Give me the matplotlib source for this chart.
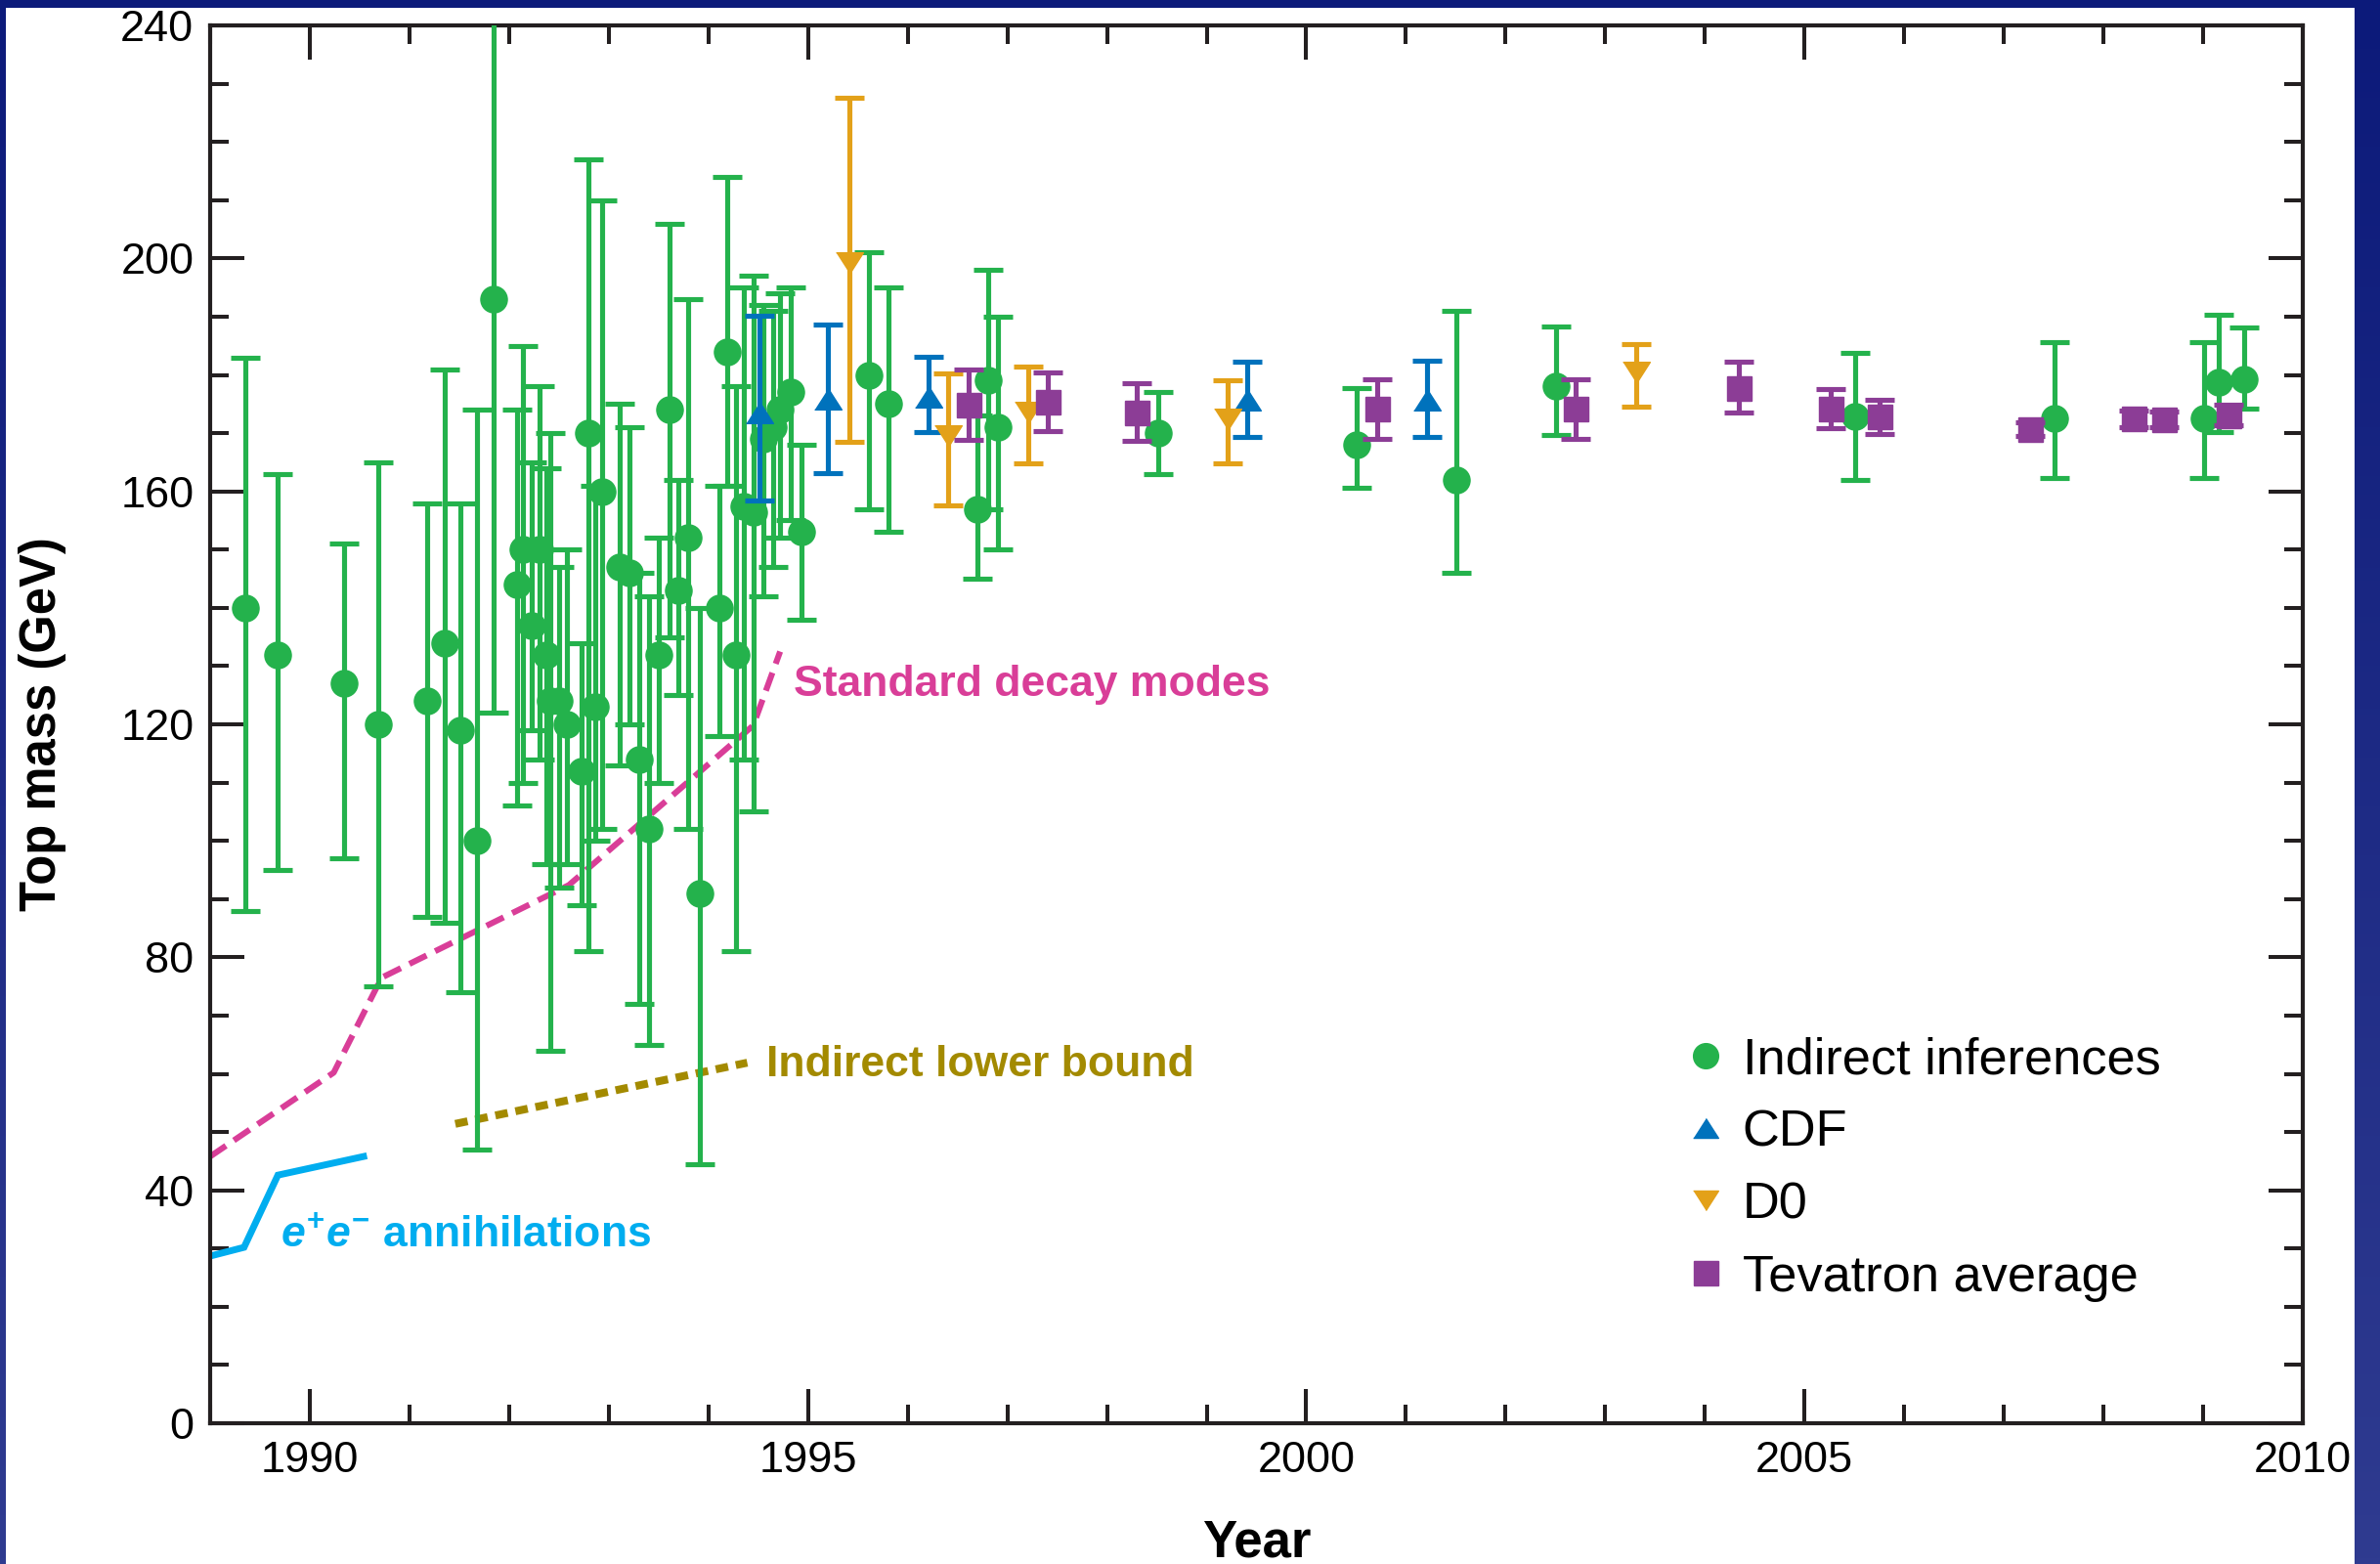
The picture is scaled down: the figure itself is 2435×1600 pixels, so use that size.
import numpy as np
import matplotlib
matplotlib.use("Agg")
import matplotlib.pyplot as plt
from matplotlib.lines import Line2D
from matplotlib.patches import Rectangle
from matplotlib.ticker import MultipleLocator

plt.rcParams['font.family'] = ['Liberation Sans', 'DejaVu Sans']
plt.rcParams['mathtext.fontset'] = 'custom'
plt.rcParams['mathtext.rm'] = 'Liberation Sans:bold'
plt.rcParams['mathtext.it'] = 'Liberation Sans:italic:bold'
plt.rcParams['mathtext.bf'] = 'Liberation Sans:bold'

# ---- data: year, central value, lower and upper limit of the band (GeV) ----
ind_year = [1989.35, 1989.68, 1990.34, 1990.69, 1991.18, 1991.35, 1991.51, 1991.68,
            1991.84, 1992.08, 1992.14, 1992.23, 1992.31, 1992.37, 1992.41, 1992.50,
            1992.58, 1992.73, 1992.80, 1992.86, 1992.93, 1993.11, 1993.21, 1993.31,
            1993.40, 1993.50, 1993.61, 1993.70, 1993.80, 1993.91, 1994.11, 1994.19,
            1994.28, 1994.36, 1994.45, 1994.55, 1994.65, 1994.72, 1994.83, 1994.93,
            1995.61, 1995.81, 1996.70, 1996.81, 1996.91, 1998.51, 2000.51, 2001.51,
            2002.51, 2005.51, 2007.51, 2009.01, 2009.16, 2009.41]
ind_mass = [140, 132, 127, 120, 124, 134, 119, 100,
            193, 144, 150, 137, 150, 132, 124, 124,
            120, 112, 170, 123, 160, 147, 146, 114,
            102, 132, 174, 143, 152, 91, 140, 184,
            132, 157.5, 156.5, 169, 171, 174, 177, 153,
            180, 175, 157, 179, 171, 170, 168, 162,
            178, 172.8, 172.5, 172.5, 178.8, 179.3]
ind_lo = [88, 95, 97, 75, 87, 86, 74, 47,
          122, 106, 110, 119, 114, 96, 64, 92,
          96, 89, 81, 100, 102, 113, 120, 72,
          65, 110, 135, 125, 102, 44.5, 118, 161,
          81, 114, 105, 142, 147, 152, 155, 138,
          157, 153, 145, 157, 150, 163, 160.6, 146,
          169.7, 162, 162.3, 162.3, 170.1, 174.2]
ind_hi = [183, 163, 151, 165, 158, 181, 158, 174,
          262, 174, 185, 165, 178, 164, 170, 147,
          150, 134, 217, 161, 210, 175, 171, 146,
          142, 152, 206, 162, 193, 140, 161, 214,
          178, 195, 197, 192, 191, 194, 195, 168,
          201, 195, 173, 198, 190, 177, 177.7, 191,
          188.3, 183.8, 185.6, 185.6, 190.3, 188.1]

cdf_year = [1994.51, 1995.20, 1996.21, 1999.41, 2001.21]
cdf_mass = [173.6, 175.9, 176.2, 175.7, 175.7]
cdf_lo = [158.4, 163.2, 170.2, 169.3, 169.3]
cdf_hi = [190.1, 188.6, 183.1, 182.3, 182.4]

d0_year = [1995.41, 1996.41, 1997.21, 1999.21, 2003.31]
d0_mass = [199.3, 169.5, 173.6, 172.4, 180.4]
d0_lo = [168.5, 157.6, 164.8, 164.8, 174.5]
d0_hi = [227.6, 180.2, 181.5, 179.1, 185.3]

tev_year = [1996.61, 1997.41, 1998.30, 2000.71, 2002.70, 2004.34, 2005.26, 2005.75,
            2007.26, 2008.30, 2008.61, 2009.25]
tev_mass = [174.8, 175.4, 173.6, 174.2, 174.2, 177.8, 174.2, 172.8,
            170.7, 172.5, 172.4, 173.1]
tev_lo = [168.8, 170.4, 168.7, 169.0, 169.0, 173.5, 170.8, 169.8,
          169.5, 171.1, 171.1, 171.4]
tev_hi = [180.9, 180.5, 178.6, 179.3, 179.3, 182.2, 177.6, 175.7,
          171.9, 173.9, 173.7, 174.8]

# limit curves
ee_year = [1989.0, 1989.34, 1989.68, 1990.54]
ee_mass = [28.7, 30.2, 42.6, 45.8]
sdm_year = [1989.0, 1990.24, 1990.72, 1992.60, 1994.45, 1994.72]
sdm_mass = [45.8, 60.2, 76.5, 92.4, 119.8, 132.5]
ilb_year = [1991.46, 1994.39]
ilb_mass = [51.4, 61.9]

series_labels = ["Indirect inferences", "CDF", "D0", "Tevatron average"]

# ---- colours ----
GREEN = '#24B24C'
BLUE = '#0072BC'
ORANGE = '#E3A119'
PURPLE = '#8C3D96'
PINK = '#D93E98'
CYAN = '#00ADEF'
OLIVE = '#A38A00'
INK = '#231F20'

W, H = 2435, 1600
fig = plt.figure(figsize=(W / 100, H / 100), dpi=100)

# navy frame with a soft vertical gradient, white panel inside
bg = fig.add_axes([0, 0, 1, 1], zorder=-10)
top_c = np.array([12, 26, 122]) / 255.0
bot_c = np.array([47, 59, 144]) / 255.0
t = np.linspace(0, 1, 256)[:, None]
grad = (top_c[None, :] * (1 - t) + bot_c[None, :] * t)[:, None, :]
bg.imshow(grad, aspect='auto', extent=[0, 1, 0, 1], origin='upper')
bg.add_patch(Rectangle((6 / W, 0), (2409 - 6) / W, (H - 8) / H,
                       facecolor='white', edgecolor='none'))
bg.set_xlim(0, 1)
bg.set_ylim(0, 1)
bg.set_axis_off()

x0, x1 = 215, 2356
y0, y1 = 26, 1456
ax = fig.add_axes([x0 / W, 1 - y1 / H, (x1 - x0) / W, (y1 - y0) / H])
ax.set_facecolor('white')

ax.set_xlim(1989, 2010)
ax.set_ylim(0, 240)


def band(mass, lo, hi):
    m = np.asarray(mass, float)
    return np.vstack([m - np.asarray(lo, float), np.asarray(hi, float) - m])


eb_kw = dict(ls='none', capsize=11, elinewidth=3.7, capthick=3.7)

tri_up = [(-1, -0.78), (1, -0.78), (0, 0.78)]
tri_dn = [(-1, 0.78), (1, 0.78), (0, -0.78)]

ax.errorbar(ind_year, ind_mass, yerr=band(ind_mass, ind_lo, ind_hi), marker='o',
            ms=19.5, color=GREEN, mec=GREEN, zorder=3, **eb_kw)
ax.errorbar(cdf_year, cdf_mass, yerr=band(cdf_mass, cdf_lo, cdf_hi), marker=tri_up,
            ms=20, color=BLUE, mec=BLUE, zorder=4, **eb_kw)
ax.errorbar(d0_year, d0_mass, yerr=band(d0_mass, d0_lo, d0_hi), marker=tri_dn,
            ms=20, color=ORANGE, mec=ORANGE, zorder=4, **eb_kw)
ax.errorbar(tev_year, tev_mass, yerr=band(tev_mass, tev_lo, tev_hi), marker='s',
            ms=18, color=PURPLE, mec=PURPLE, zorder=5, **eb_kw)

# exclusion limits
ax.plot(ee_year, ee_mass, color=CYAN, lw=5.0, solid_joinstyle='miter', zorder=2)
ax.plot(sdm_year, sdm_mass, color=PINK, lw=4.4, dashes=(3.2, 1.6), zorder=2)
ax.plot(ilb_year, ilb_mass, color=OLIVE, lw=5.8, dashes=(1.6, 1.0), zorder=2)

ax.text(1994.855, 124.9, "Standard decay modes", color=PINK, fontsize=32,
        fontweight='bold', ha='left', va='baseline')
ax.text(1994.585, 59.6, "Indirect lower bound", color=OLIVE, fontsize=32,
        fontweight='bold', ha='left', va='baseline')
ax.text(1989.71, 30.2, r"$e^{+}e^{-}$ annihilations", color=CYAN, fontsize=32,
        fontweight='bold', ha='left', va='baseline')

# axes styling
for sp in ax.spines.values():
    sp.set_linewidth(3.0)
    sp.set_color(INK)
ax.xaxis.set_major_locator(MultipleLocator(5))
ax.xaxis.set_minor_locator(MultipleLocator(1))
ax.yaxis.set_major_locator(MultipleLocator(40))
ax.yaxis.set_minor_locator(MultipleLocator(10))
ax.tick_params(which='both', direction='in', top=True, right=True,
               width=2.9, color=INK, labelsize=32.5, labelcolor='black')
ax.tick_params(which='major', length=25)
ax.tick_params(which='minor', length=14)
ax.tick_params(axis='x', pad=13)
ax.tick_params(axis='y', pad=12)

ax.set_xlabel("Year", fontsize=38, fontweight='bold')
ax.set_ylabel("Top mass (GeV)", fontsize=36.5, fontweight='bold')
ax.xaxis.set_label_coords(0.5, -0.068)
ax.yaxis.set_label_coords(-0.0687, 0.5)

handles = [
    Line2D([], [], ls='none', marker='o', ms=18.5, color=GREEN),
    Line2D([], [], ls='none', marker=tri_up, ms=18.5, color=BLUE),
    Line2D([], [], ls='none', marker=tri_dn, ms=18.5, color=ORANGE),
    Line2D([], [], ls='none', marker='s', ms=18, color=PURPLE),
]
ax.legend(handles, series_labels, loc='upper left', bbox_to_anchor=(0.7048, 0.2768),
          frameon=False, fontsize=37.7, handlelength=0.8, handletextpad=0.32,
          labelspacing=0.48, borderpad=0, borderaxespad=0, numpoints=1)

fig.savefig("out.png", dpi=100)
